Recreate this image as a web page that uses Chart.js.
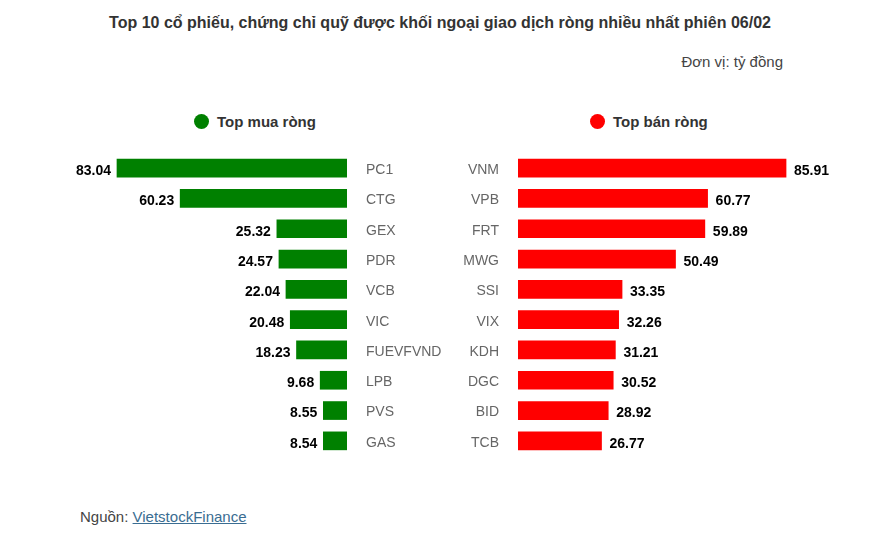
<!DOCTYPE html>
<html lang="vi">
<head>
<meta charset="utf-8">
<script src="https://cdn.jsdelivr.net/npm/chart.js@4.4.1/dist/chart.umd.min.js"></script>
<style>
  body { margin: 0; background: #fff; font-family: Arial, "Liberation Sans", sans-serif; }
  #wrap { position: relative; width: 880px; height: 553px; overflow: hidden; }
  .title { position: absolute; top: 14px; left: 0; width: 880px; text-align: center; font-weight: bold; font-size: 16px; color: #333; }
  .unit { position: absolute; top: 53px; right: 97px; font-size: 15px; color: #444; }
  .legend { position: absolute; top: 113px; font-weight: bold; font-size: 15px; color: #333; }
  .legend span.dot { display: inline-block; width: 15px; height: 15px; border-radius: 50%; vertical-align: -2px; margin-right: 8px; }
  .source { position: absolute; top: 508px; left: 80px; font-size: 15px; color: #444; }
  .source a { color: #3a6d92; text-decoration: underline; }
  canvas { position: absolute; top: 153px; }
</style>
</head>
<body>
<div id="wrap">
  <div class="title">Top 10 cổ phiếu, chứng chỉ quỹ được khối ngoại giao dịch ròng nhiều nhất phiên 06/02</div>
  <div class="unit">Đơn vị: tỷ đồng</div>
  <div class="legend" style="left:194px"><span class="dot" style="background:#008000"></span>Top mua ròng</div>
  <div class="legend" style="left:590px"><span class="dot" style="background:#ff0000"></span>Top bán ròng</div>
  <canvas id="buyChart" width="455" height="303" style="left:0"></canvas>
  <canvas id="sellChart" width="430" height="303" style="left:450px"></canvas>
  <div class="source">Nguồn: <a href="#">VietstockFinance</a></div>
</div>
<script>
const buyLabels = ['PC1', 'CTG', 'GEX', 'PDR', 'VCB', 'VIC', 'FUEVFVND', 'LPB', 'PVS', 'GAS'];
const buyValues = [83.04, 60.23, 25.32, 24.57, 22.04, 20.48, 18.23, 9.68, 8.55, 8.54];
const sellLabels = ['VNM', 'VPB', 'FRT', 'MWG', 'SSI', 'VIX', 'KDH', 'DGC', 'BID', 'TCB'];
const sellValues = [85.91, 60.77, 59.89, 50.49, 33.35, 32.26, 31.21, 30.52, 28.92, 26.77];

const FONT = 'Arial, "Liberation Sans", sans-serif';

// draws the value at the end of each bar and the ticker name on the other side
const barLabels = {
    id: 'barLabels',
    afterDatasetsDraw(chart, args, opts) {
        const ctx = chart.ctx;
        const meta = chart.getDatasetMeta(0);
        const area = chart.chartArea;
        const left = opts.side === 'left';
        ctx.save();
        ctx.textBaseline = 'middle';
        meta.data.forEach((bar, i) => {
            const v = chart.data.datasets[0].data[i].toFixed(2);
            ctx.font = 'bold 14px ' + FONT;
            ctx.fillStyle = '#000';
            ctx.textAlign = left ? 'right' : 'left';
            ctx.fillText(v, left ? bar.x - 6 : bar.x + 8, bar.y + 3);

            ctx.font = '14px ' + FONT;
            ctx.fillStyle = '#666';
            ctx.textAlign = left ? 'left' : 'right';
            ctx.fillText(chart.data.labels[i], left ? area.right + 19 : area.left - 19, bar.y + 2);
        });
        ctx.restore();
    }
};

// fixed axis width, and no extra top/bottom padding
function fixAxis(width) {
    return (axis) => {
        axis.width = width;
        axis.paddingTop = 0;
        axis.paddingBottom = 0;
    };
}

new Chart(document.getElementById('buyChart'), {
    type: 'bar',
    data: {
        labels: buyLabels,
        datasets: [{
            data: buyValues,
            backgroundColor: '#008000',
            barThickness: 18
        }]
    },
    options: {
        indexAxis: 'y',
        responsive: false,
        animation: false,
        layout: { padding: { left: 70, top: 0, bottom: 0, right: 0 } },
        scales: {
            x: { display: false, reverse: true, min: 0, max: 100 },
            y: {
                position: 'right',
                grid: { display: false, drawTicks: false },
                border: { display: false },
                ticks: { display: false },
                afterFit: fixAxis(108)
            }
        },
        plugins: {
            legend: { display: false },
            tooltip: { enabled: false },
            barLabels: { side: 'left' }
        }
    },
    plugins: [barLabels]
});

new Chart(document.getElementById('sellChart'), {
    type: 'bar',
    data: {
        labels: sellLabels,
        datasets: [{
            data: sellValues,
            backgroundColor: '#ff0000',
            barThickness: 18
        }]
    },
    options: {
        indexAxis: 'y',
        responsive: false,
        animation: false,
        layout: { padding: { left: 0, top: 0, bottom: 0, right: 50 } },
        scales: {
            x: { display: false, min: 0, max: 100 },
            y: {
                position: 'left',
                grid: { display: false, drawTicks: false },
                border: { display: false },
                ticks: { display: false },
                afterFit: fixAxis(68)
            }
        },
        plugins: {
            legend: { display: false },
            tooltip: { enabled: false },
            barLabels: { side: 'right' }
        }
    },
    plugins: [barLabels]
});
</script>
</body>
</html>
